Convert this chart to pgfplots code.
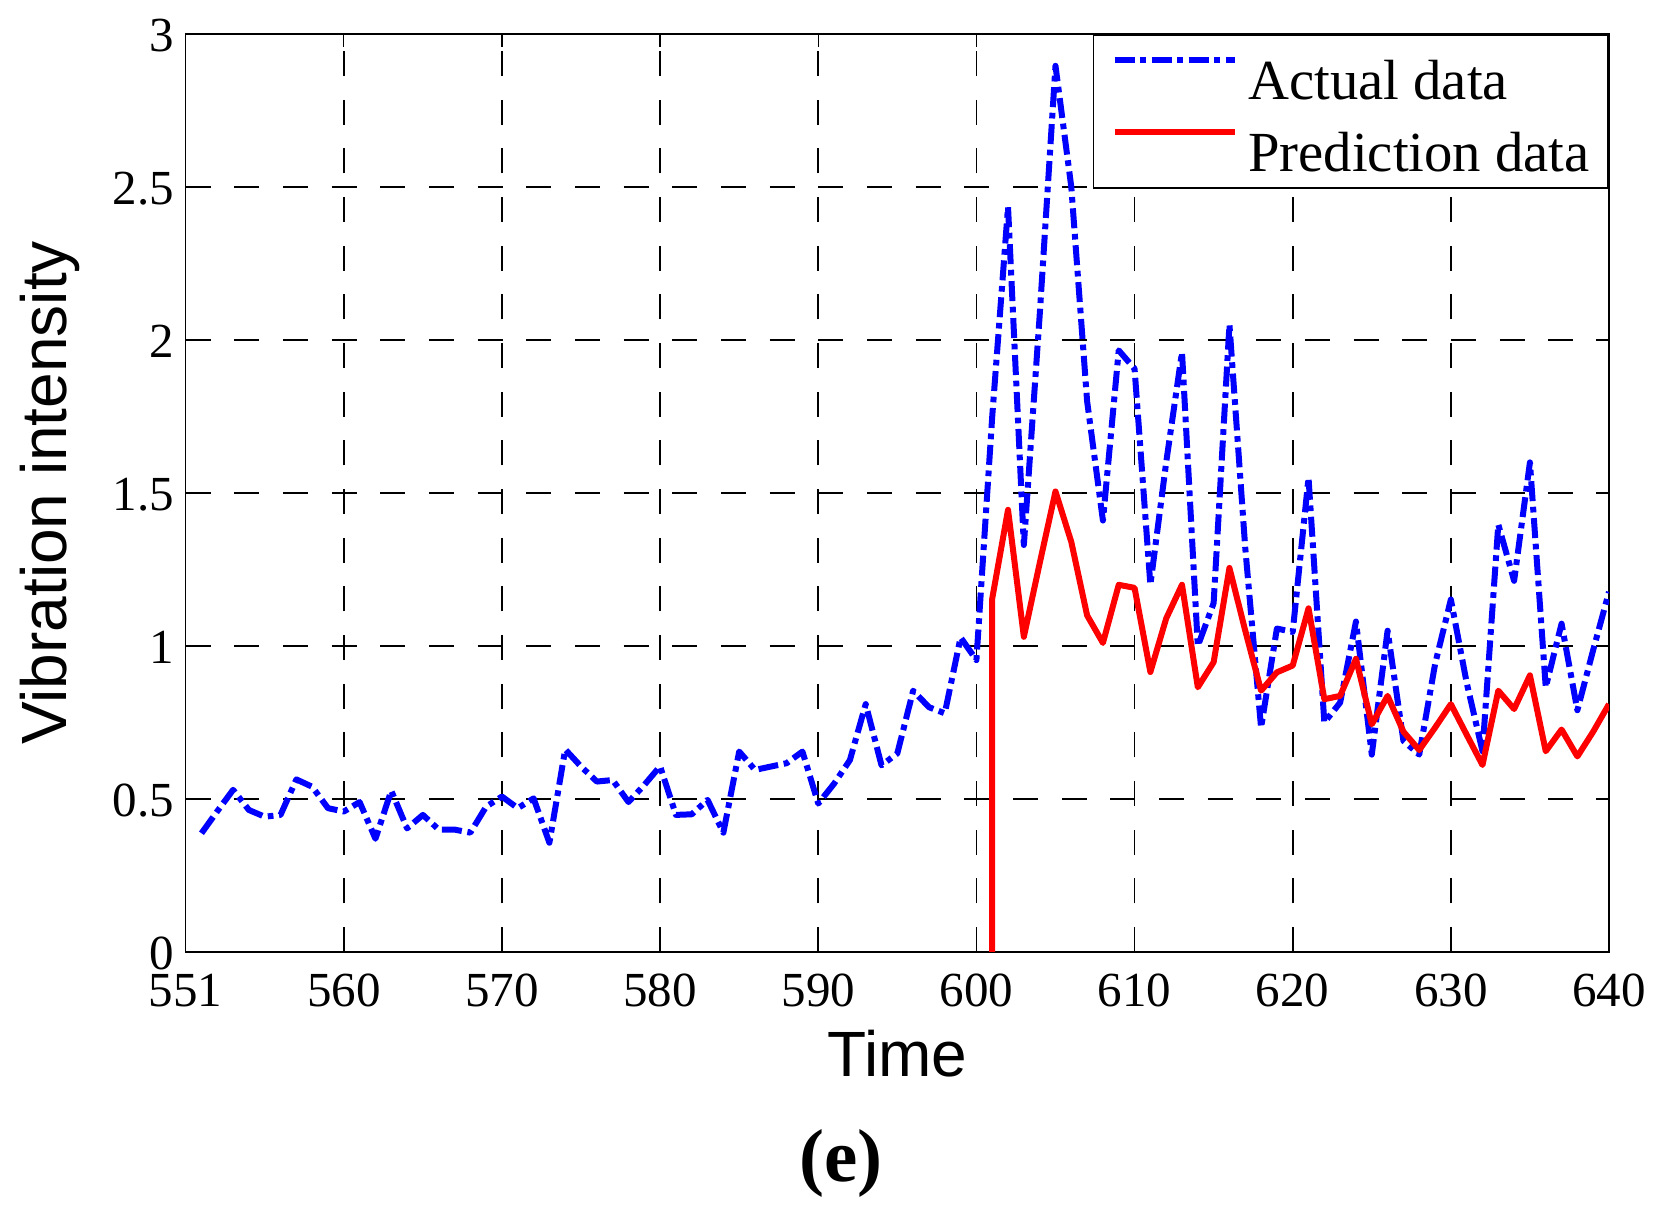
\documentclass[border=0pt]{standalone}
\usepackage{fontspec}
\setmainfont{Liberation Serif}
\setsansfont{Liberation Sans}
\usepackage{pgfplots}
\pgfplotsset{compat=1.18}
\begin{document}
\begin{tikzpicture}
\begin{axis}[
  scale only axis,
  width=427pt, height=275.4pt,
  xmin=550, xmax=640, ymin=0, ymax=3,
  xtick={550,560,...,640},
  xticklabels={551,560,570,580,590,600,610,620,630,640},
  ytick={0,0.5,1,1.5,2,2.5,3},
  /pgf/number format/assume math mode=true,
  ticklabel style={font=\fontsize{14.7}{17}\selectfont},
  xticklabel style={yshift=-3pt},
  yticklabel style={yshift=-0.5pt},
  tick align=inside, tick pos=both, major tick length=4pt,
  tick style={black, line width=0.4pt},
  axis line style={black, line width=0.5pt},
  grid=major,
  major grid style={black, line width=0.5pt, dash pattern=on 7.5pt off 7.1pt},
  xlabel={Time},
  ylabel={Vibration intensity},
  xlabel style={font=\sffamily\fontsize{19.2}{22}\selectfont, at={(axis description cs:0.5,-0.1111)}, anchor=center},
  ylabel style={font=\sffamily\fontsize{19.2}{22}\selectfont, at={(axis description cs:-0.0953,0.5)}, anchor=center},
  legend style={at={(1,1)}, anchor=north east, draw=black, line width=0.5pt, fill=white,
    font=\fontsize{17}{20}\selectfont, inner xsep=5.5pt, inner ysep=5pt, row sep=7.3pt,
    nodes={inner sep=0pt, text height=14.3pt, text depth=0pt},
    /tikz/every odd column/.append style={column sep=3pt}},
  legend cell align=left,
  legend image code/.code={\draw[#1] (0pt,4.6pt) -- (36.2pt,4.6pt);},
]
\addplot[color={rgb,255:red,0;green,0;blue,255}, line width=1.8pt, line join=round, dash pattern=on 6pt off 1.7pt on 1.7pt off 1.7pt] coordinates {
(551,0.388) (552,0.46) (553,0.53) (554,0.464) (555,0.442) (556,0.448) (557,0.564) (558,0.54) (559,0.47) (560,0.459)
(561,0.49) (562,0.37) (563,0.527) (564,0.404) (565,0.448) (566,0.40) (567,0.40) (568,0.39) (569,0.475) (570,0.508)
(571,0.47) (572,0.502) (573,0.357) (574,0.662) (575,0.606) (576,0.557) (577,0.562) (578,0.49) (579,0.546) (580,0.607)
(581,0.448) (582,0.45) (583,0.497) (584,0.39) (585,0.655) (586,0.595) (587,0.606) (588,0.617) (589,0.655) (590,0.485)
(591,0.55) (592,0.627) (593,0.81) (594,0.61) (595,0.649) (596,0.854) (597,0.80) (598,0.78) (599,1.028) (600,0.954)
(601,1.75) (602,2.435) (603,1.33) (604,2.08) (605,2.896) (606,2.5) (607,1.8) (608,1.41) (609,1.966) (610,1.906)
(611,1.2) (612,1.6) (613,1.96) (614,1.0) (615,1.14) (616,2.05) (617,1.32) (618,0.733) (619,1.057) (620,1.046)
(621,1.55) (622,0.75) (623,0.815) (624,1.08) (625,0.645) (626,1.05) (627,0.69) (628,0.645) (629,0.94) (630,1.152)
(631,0.88) (632,0.656) (633,1.397) (634,1.213) (635,1.6) (636,0.865) (637,1.073) (638,0.79) (639,0.987) (640,1.177)
};
\addlegendentry{Actual data}
\addplot[color={rgb,255:red,255;green,0;blue,0}, line width=1.8pt, line join=round, solid] coordinates {
(601,0) (601,1.155) (602,1.445) (603,1.03) (604,1.27) (605,1.505) (606,1.34) (607,1.10) (608,1.01) (609,1.2) (610,1.19)
(611,0.915) (612,1.09) (613,1.2) (614,0.865) (615,0.947) (616,1.255) (617,1.05) (618,0.854) (619,0.914) (620,0.936)
(621,1.123) (622,0.826) (623,0.837) (624,0.958) (625,0.744) (626,0.837) (627,0.72) (628,0.66) (629,0.733) (630,0.81)
(631,0.71) (632,0.611) (633,0.854) (634,0.794) (635,0.904) (636,0.656) (637,0.727) (638,0.639) (639,0.72) (640,0.81)
};
\addlegendentry{Prediction data}
\coordinate (sw) at (rel axis cs:0,0);
\coordinate (ne) at (rel axis cs:1,1);
\end{axis}
\node[font=\bfseries\fontsize{22.5}{26}\selectfont, inner sep=0pt] at ([shift={(196.6pt,-63.3pt)}]sw) {(e)};
\pgfresetboundingbox
\path ([shift={(-55.7pt,-77.7pt)}]sw) rectangle ([shift={(15pt,10.2pt)}]ne);
\end{tikzpicture}
\end{document}
